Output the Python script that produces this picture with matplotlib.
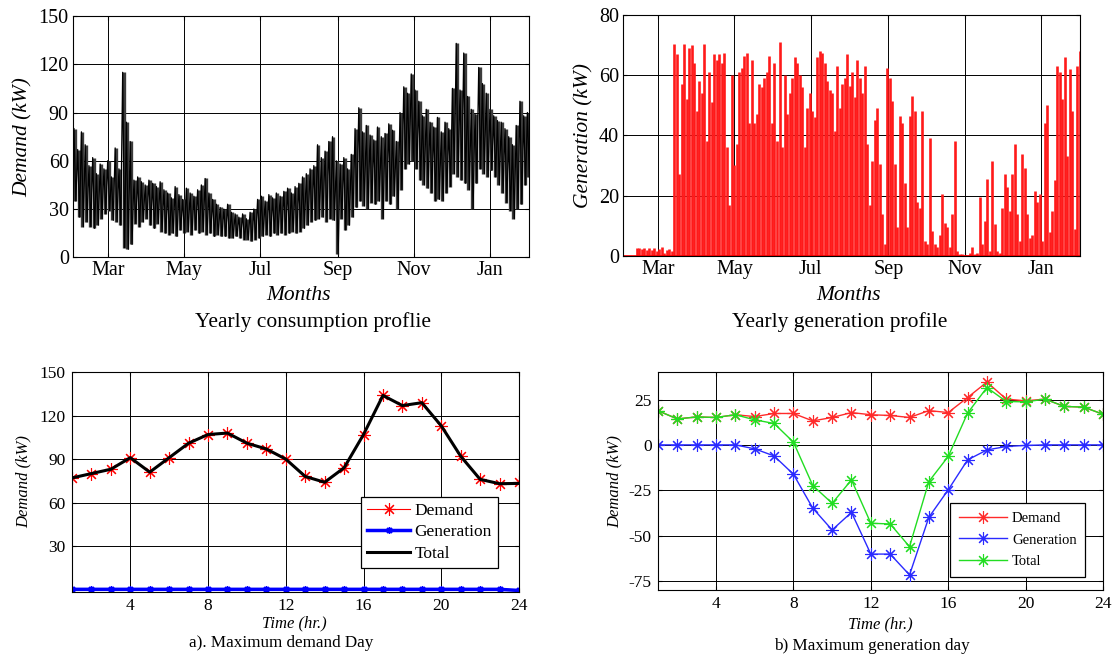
"""
Yearly consumption / generation profiles and two daily profiles.
"""

import numpy as np
import matplotlib
matplotlib.use('Agg')
import matplotlib.pyplot as plt

plt.rcParams['font.family'] = 'Liberation Serif'
plt.rcParams['axes.unicode_minus'] = False

# ---- yearly demand, 3-day blocks starting 1 Feb (daily high / low, kW)
dem_hi = [80, 67, 78, 70, 57, 62, 52, 58, 55, 60,
          50, 68, 55, 115, 84, 72, 48, 50, 47, 45,
          48, 46, 44, 47, 42, 40, 37, 44, 39, 36,
          43, 40, 38, 42, 45, 49, 40, 36, 33, 31,
          30, 33, 28, 27, 25, 27, 24, 28, 30, 36,
          38, 35, 39, 37, 40, 38, 41, 43, 40, 44,
          46, 50, 52, 55, 57, 70, 62, 66, 72, 75,
          60, 58, 62, 55, 64, 80, 93, 78, 82, 76,
          73, 81, 75, 77, 83, 79, 72, 90, 106, 102,
          114, 104, 97, 88, 92, 84, 81, 87, 78, 84,
          80, 105, 133, 104, 127, 100, 92, 89, 118, 108,
          102, 92, 88, 85, 84, 80, 75, 70, 82, 97,
          88, 90]
dem_lo = [35, 25, 19, 22, 19, 18, 20, 24, 27, 29,
          23, 22, 20, 6, 5, 8, 21, 19, 22, 24,
          20, 18, 21, 16, 15, 14, 15, 13, 17, 15,
          16, 14, 17, 15, 16, 14, 15, 13, 14, 13,
          13, 12, 12, 13, 12, 11, 11, 10, 11, 12,
          13, 14, 13, 15, 14, 15, 14, 15, 16, 15,
          16, 18, 20, 22, 23, 24, 25, 22, 24, 23,
          2, 24, 17, 20, 25, 31, 35, 32, 30, 34,
          33, 35, 24, 35, 33, 38, 30, 42, 55, 58,
          60, 55, 48, 45, 43, 40, 35, 36, 35, 40,
          44, 52, 50, 48, 46, 42, 30, 46, 55, 52,
          50, 54, 50, 45, 40, 34, 29, 24, 30, 33,
          45, 50]

# ---- yearly generation, daily peak per 2-day slot (kW)
gen_peak = [0, 0, 0, 0, 0,
            2.7, 2.5, 2.2, 2.6, 1.8, 2.4, 2.0, 2.6, 1.5, 2.2, 2.8, 1.0, 1.8, 2.2, 1.5,
            70.5, 67, 27, 57, 70.5, 52, 69, 70, 64, 48,
            58, 54, 70.5, 38, 61, 51, 67, 65, 67, 64,
            67.5, 36, 17, 60, 30, 37, 61, 62.5, 66.5, 67.5,
            44, 65, 44, 47, 57, 56, 59, 61, 66.5, 44,
            64, 38, 71, 36, 60, 47, 54, 59, 66, 64,
            60, 56, 36, 49, 54, 48, 46, 66, 68, 67.5,
            64, 58, 55, 54, 41.5,
            63, 49, 57, 59, 67, 56.5, 61, 52.6, 65, 59,
            54, 63, 37, 17, 31.5, 45, 49, 30.5, 14, 4,
            62.5, 59, 51.5, 30.5, 9.4, 46.5, 44, 24, 9.4, 46.5,
            53, 48, 18, 16, 48, 5, 4, 39, 8.3, 4,
            2.8, 7, 20.5, 11, 9.4, 2.8, 14, 38, 1.7, 0.5,
            0.5, 0.3, 0.3, 0.8, 2.8, 0.5, 1.0, 19.4, 4, 11.6,
            25.5, 1.5, 31.5, 10.5, 1.5, 0.8, 16, 27, 22.7, 15,
            27, 37, 14, 5, 33.8, 29, 14, 6, 7, 21.6,
            18, 20.5, 5, 44,
            50, 8, 15, 25, 63, 61, 52, 66, 33, 62, 48, 9, 63, 68]

month_days = [28, 89, 150, 212, 273, 334]
month_labels = ['Mar', 'May', 'Jul', 'Sep', 'Nov', 'Jan']

# ---- daily profiles
hours = list(range(1, 25))
a_demand = [77, 80, 83, 91, 81, 91, 101, 107, 108, 101, 97, 90,
            78, 74, 84, 107, 134, 127, 129, 113, 92, 76, 73, 74]
a_generation = [0, 0, 0, 0, 0, 0, 0, 0, 0, 0, 0, 0,
                0, 0, 0, 0, 0, 0, 0, 0, 0, 0, 0, -0.8]
a_total = [77, 80, 83, 91, 81, 91, 101, 107, 108, 101, 97, 90,
           78, 74, 84, 107, 134, 127, 129, 113, 92, 76, 73, 73.2]

b_demand = [18.8, 14.3, 15.4, 15.1, 16.6, 15.6, 17.3, 17.3, 13.2, 15.1, 17.8, 16.6,
            16.2, 15.1, 18.9, 17.8, 26.1, 34.6, 25.2, 24.3, 25.2, 21.2, 20.8, 16.9]
b_generation = [0, 0, 0, 0, 0, -2.2, -6.1, -16.2, -34.9, -46.9, -37.2, -60.2,
                -60.2, -71.7, -39.9, -24.8, -8.3, -2.8, -0.9, -0.3, 0, 0, 0, 0]
b_total = [18.8, 14.3, 15.4, 15.1, 16.6, 13.8, 11.8, 1.5, -22.4, -32.2, -19.3, -43.2,
           -43.6, -56.1, -20.2, -6.4, 17.5, 31.6, 23.9, 23.7, 25.2, 21.2, 20.8, 16.9]

W, H = 1113, 659
fig = plt.figure(figsize=(W / 100, H / 100), dpi=100)


def px_axes(x0, y0, x1, y1):
    # axes from pixel box (top-left origin)
    return fig.add_axes([x0 / W, 1 - y1 / H, (x1 - x0) / W, (y1 - y0) / H])


def matlab_style(ax, size, pad):
    ax.tick_params(direction='in', top=True, right=True, length=3,
                   width=0.8, labelsize=size, pad=pad)
    ax.grid(True, color='k', lw=0.7)
    ax.set_axisbelow(True)
    for sp in ax.spines.values():
        sp.set_linewidth(0.8)


def ftext(x, y, s, size, **kw):
    fig.text(x / W, 1 - y / H, s, fontsize=size, ha='center', va='center', **kw)


star = (8, 2, 0)

# ---- top left: yearly consumption
ax1 = px_axes(73, 16, 529, 257.3)
dem_day = np.arange(len(dem_hi)) * 3 + 1.5
ax1.vlines(dem_day, dem_lo, dem_hi, colors='#3c3c3c', lw=2.4)
zig_x = np.column_stack([dem_day - 0.75, dem_day + 0.75]).ravel()
zig_y = np.column_stack([dem_hi, dem_lo]).ravel()
ax1.plot(zig_x, zig_y, color='black', lw=0.9)
ax1.set_xlim(0, 365)
ax1.set_ylim(0, 150)
ax1.set_yticks([0, 30, 60, 90, 120, 150])
ax1.set_xticks(month_days)
ax1.set_xticklabels(month_labels)
matlab_style(ax1, 14.5, 3)
ax1.set_ylabel('Demand (kW)', fontsize=15.5, style='italic', labelpad=4)
ftext(298, 296, 'Months', 15.5, style='italic')
ftext(313, 322, 'Yearly consumption proflie', 15.5)

# ---- top right: yearly generation
ax2 = px_axes(623, 15, 1080, 255.7)
gen_day = np.arange(len(gen_peak)) * 2 + 1
ax2.vlines(gen_day, 0, gen_peak, colors='#ff1a1a', lw=1.9)
ax2.axhline(0, color='red', lw=1.2)
ax2.set_xlim(0, 365)
ax2.set_ylim(0, 80)
ax2.set_yticks([0, 20, 40, 60, 80])
ax2.set_xticks(month_days)
ax2.set_xticklabels(month_labels)
matlab_style(ax2, 14.5, 3)
ax2.set_ylabel('Generation (kW)', fontsize=15.5, style='italic', labelpad=4)
ftext(848, 296, 'Months', 15.5, style='italic')
ftext(840, 322, 'Yearly generation profile', 15.5)

# ---- bottom left: maximum demand day
ax3 = px_axes(72, 372.3, 519, 591.5)
ax3.plot(hours, a_demand, color='red', lw=0.8, marker=star, ms=9, mew=0.8,
         label='Demand')
ax3.plot(hours, a_generation, color='blue', lw=2.5, marker=star, ms=5, mew=1,
         label='Generation')
ax3.plot(hours, a_total, color='black', lw=2.2, label='Total')
ax3.set_xlim(1, 24)
ax3.set_ylim(-1.5, 150)
ax3.set_xticks([4, 8, 12, 16, 20, 24])
ax3.set_yticks([30, 60, 90, 120, 150])
matlab_style(ax3, 12.5, 4.5)
ax3.set_ylabel('Demand (kW)', fontsize=12, style='italic', labelpad=6)
ax3.legend(loc='upper left', bbox_to_anchor=(0.646, 0.4325), borderaxespad=0,
           fontsize=12.5, fancybox=False, edgecolor='black', framealpha=1,
           handlelength=2.5, handletextpad=0.25, labelspacing=0.3,
           borderpad=0.35)
ax3.get_legend().get_frame().set_linewidth(0.9)
ftext(294, 623, 'Time (hr.)', 12, style='italic')
ftext(281, 643, 'a). Maximum demand Day', 12.3)

# ---- bottom right: maximum generation day
ax4 = px_axes(658, 372.3, 1103, 590)
ax4.plot(hours, b_demand, color='#ff2a2a', lw=1, marker=star, ms=9, mew=0.8,
         label='Demand')
ax4.plot(hours, b_generation, color='#2a2aff', lw=1, marker=star, ms=9, mew=0.8,
         label='Generation')
ax4.plot(hours, b_total, color='#22dd22', lw=1, marker=star, ms=9, mew=0.8,
         label='Total')
ax4.set_xlim(1, 24)
ax4.set_ylim(-80, 40)
ax4.set_xticks([4, 8, 12, 16, 20, 24])
ax4.set_yticks([-75, -50, -25, 0, 25])
matlab_style(ax4, 12.5, 4.5)
ax4.set_ylabel('Demand (kW)', fontsize=12, style='italic', labelpad=4)
ax4.legend(loc='upper left', bbox_to_anchor=(0.656, 0.398), borderaxespad=0,
           fontsize=10.5, fancybox=False, edgecolor='black', framealpha=1,
           handlelength=3.3, handletextpad=0.35, labelspacing=0.55,
           borderpad=0.6)
ax4.get_legend().get_frame().set_linewidth(0.9)
ftext(880, 624, 'Time (hr.)', 12, style='italic')
ftext(872, 646, 'b) Maximum generation day', 12.3)

fig.savefig('out.png', dpi=100)
